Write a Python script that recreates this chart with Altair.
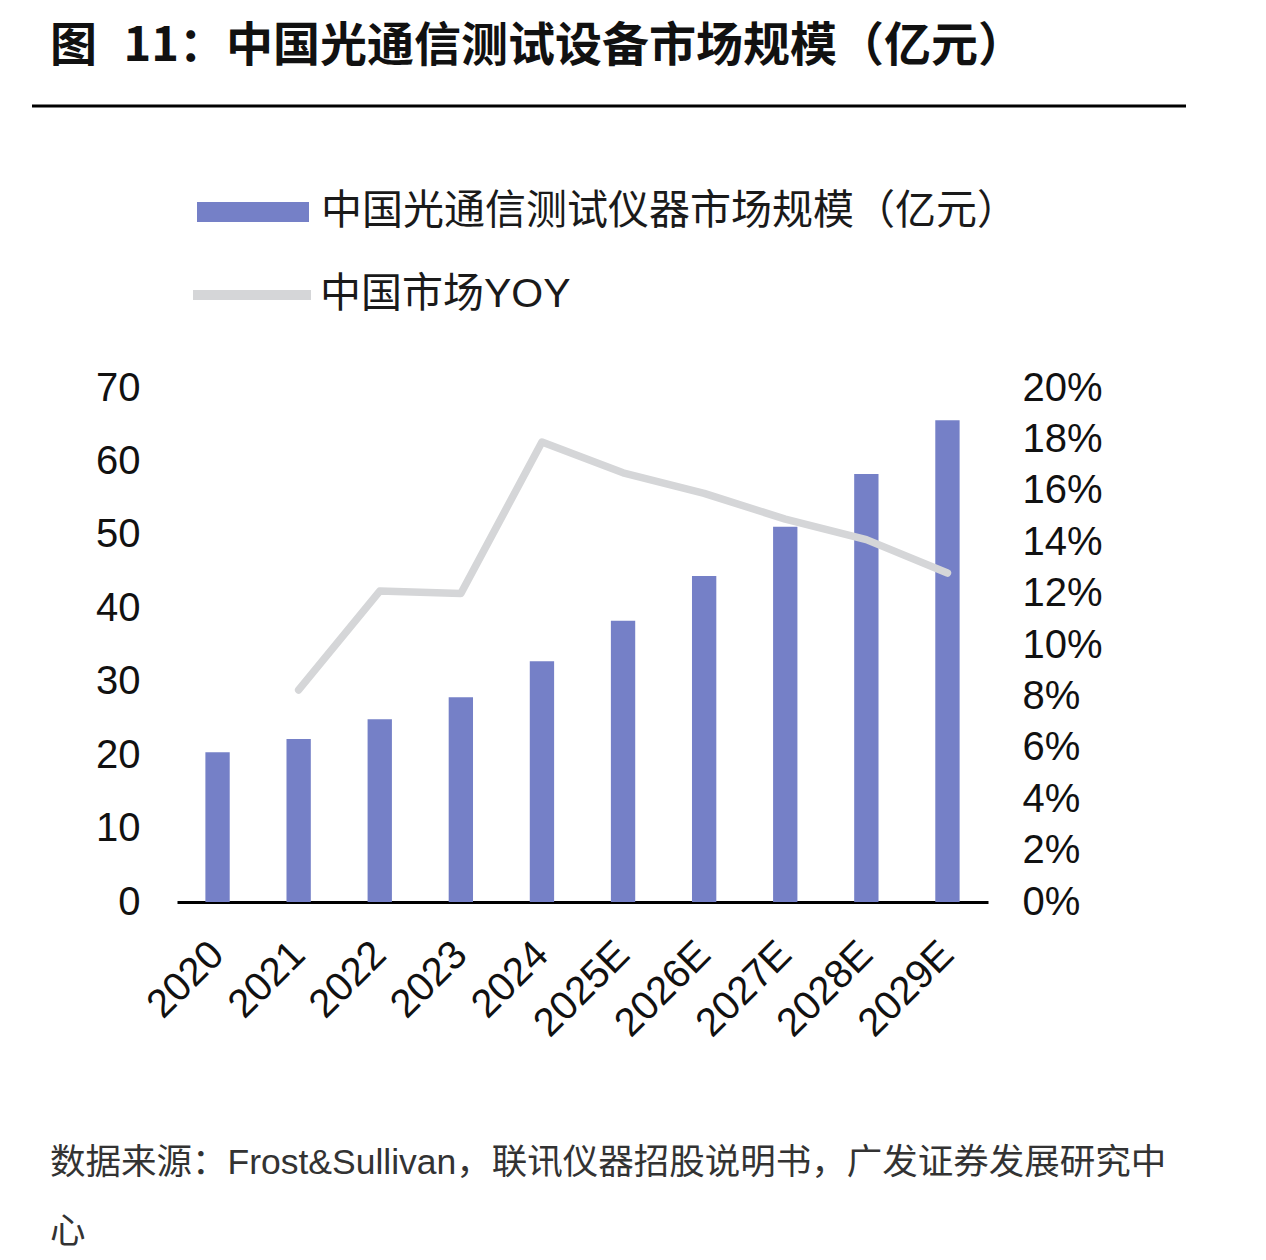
import altair as alt
import pandas as pd

# ---- data ----
years = ["2020", "2021", "2022", "2023", "2024", "2025E", "2026E", "2027E", "2028E", "2029E"]
market_size = [20.4, 22.2, 24.9, 27.9, 32.8, 38.3, 44.4, 51.1, 58.3, 65.6]   # 亿元
market_yoy = [None, 0.0825, 0.121, 0.120, 0.179, 0.167, 0.159, 0.149, 0.141, 0.128]

size_name = "中国光通信测试仪器市场规模（亿元）"
yoy_name = "中国市场YOY"
title_text = "图\u2002\u200a11：中国光通信测试设备市场规模（亿元）"
source_line1 = "数据来源：Frost&Sullivan，联讯仪器招股说明书，广发证券发展研究中"
source_line2 = "心"

size_ticks = [0, 10, 20, 30, 40, 50, 60, 70]
yoy_ticks = [0, 0.02, 0.04, 0.06, 0.08, 0.10, 0.12, 0.14, 0.16, 0.18, 0.20]

BAR_COLOR = "#7580C7"
LINE_COLOR = "#D5D6D8"
FONT = "Liberation Sans, Noto Sans CJK SC"
CJK_BOLD = "Noto Sans CJK SC"

df = pd.DataFrame({
    "year": years,
    "size": market_size,
    "yoy": market_yoy,
    "s1": size_name,
    "s2": yoy_name,
})

# plot area geometry (view is placed by padding, autosize off)
PAD_L, PAD_T = 177, 388
W, H = 811, 514

x_scale = alt.Scale(domain=years, paddingInner=0.7, paddingOuter=0.35)
x_axis = alt.Axis(
    labelAngle=-45, labelAlign="right", labelBaseline="middle",
    labelFontSize=40, labelFont=FONT, labelColor="#111111",
    labelPadding=46, ticks=False, domainColor="#000000", domainWidth=3,
    grid=False,
)

bars = alt.Chart(df).mark_bar(color=BAR_COLOR).encode(
    x=alt.X("year:N", sort=years, scale=x_scale, title=None, axis=x_axis),
    y=alt.Y(
        "size:Q", scale=alt.Scale(domain=[0, 70], nice=False), title=None,
        axis=alt.Axis(
            values=size_ticks, orient="left", labelFontSize=40, labelFont=FONT,
            labelColor="#111111", labelPadding=37, ticks=False, domain=False, grid=False,
        ),
    ),
    fill=alt.Fill(
        "s1:N", scale=alt.Scale(domain=[size_name], range=[BAR_COLOR]),
        legend=alt.Legend(
            title=None, orient="none", legendX=20, legendY=-232,
            symbolType="M-1,-0.18H1V0.18H-1Z", symbolSize=12544,
            symbolStrokeWidth=0, labelFontSize=41, labelFont=FONT,
            labelColor="#1a1a1a", labelOffset=12, labelLimit=0, padding=0,
        ),
    ),
)

line = alt.Chart(df).mark_line(
    strokeWidth=7.5, strokeCap="round", strokeJoin="round"
).encode(
    x=alt.X("year:N", sort=years, scale=x_scale, title=None, axis=x_axis, bandPosition=0.5),
    y=alt.Y(
        "yoy:Q", scale=alt.Scale(domain=[0, 0.20], nice=False), title=None,
        axis=alt.Axis(
            values=yoy_ticks, format=".0%", orient="right", labelFontSize=40,
            labelFont=FONT, labelColor="#111111", labelPadding=34, ticks=False,
            domain=False, grid=False,
        ),
    ),
    stroke=alt.Stroke(
        "s2:N", scale=alt.Scale(domain=[yoy_name], range=[LINE_COLOR]),
        legend=alt.Legend(
            title=None, orient="none", legendX=11, legendY=-157,
            symbolType="stroke", symbolSize=13924, symbolStrokeWidth=10,
            labelFontSize=41, labelFont=FONT, labelColor="#1a1a1a",
            labelOffset=4, labelLimit=0, padding=0,
        ),
    ),
)

# heading, rule under heading, source note
heading = alt.Chart(pd.DataFrame({"t": [title_text]})).mark_text(
    align="left", baseline="middle", fontSize=47, fontWeight="bold",
    font=CJK_BOLD, color="#111111",
).encode(text="t:N", x=alt.value(50 - PAD_L), y=alt.value(47 - PAD_T))

heading_rule = alt.Chart(pd.DataFrame({"a": [0]})).mark_rule(
    color="#000000", strokeWidth=3
).encode(
    x=alt.value(32 - PAD_L), x2=alt.value(1186 - PAD_L), y=alt.value(106 - PAD_T)
)

source_style = dict(align="left", baseline="middle", fontSize=35.5, font=FONT, color="#333333")
source1 = alt.Chart(pd.DataFrame({"t": [source_line1]})).mark_text(**source_style).encode(
    text="t:N", x=alt.value(50 - PAD_L), y=alt.value(1163 - PAD_T)
)
source2 = alt.Chart(pd.DataFrame({"t": [source_line2]})).mark_text(**source_style).encode(
    text="t:N", x=alt.value(50 - PAD_L), y=alt.value(1232 - PAD_T)
)

chart = alt.layer(bars, line, heading, heading_rule, source1, source2).resolve_scale(
    y="independent"
).properties(
    width=W, height=H,
    autosize=alt.AutoSizeParams(type="none"),
    padding={"left": PAD_L, "top": PAD_T, "right": 1266 - PAD_L - W, "bottom": 1260 - PAD_T - H},
    background="white",
).configure_view(stroke=None)

chart.save("out.html", embed_options={"renderer": "svg", "actions": False})
